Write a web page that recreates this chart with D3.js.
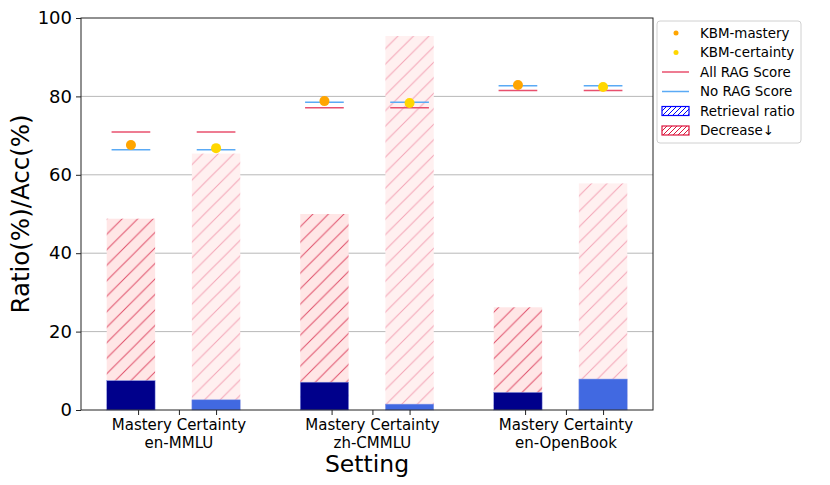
<!DOCTYPE html>
<html>
<head>
<meta charset="utf-8">
<script src="https://cdn.jsdelivr.net/npm/d3@7"></script>
<style>
  body { margin: 0; background: #fff; }
  text { font-family: "DejaVu Sans", sans-serif; }
</style>
</head>
<body>
<div id="chart"></div>
<script>
const settings = ['en-MMLU', 'zh-CMMLU', 'en-OpenBook'];
const kinds = ['Mastery', 'Certainty'];
// per setting: [mastery, certainty]
const retrievalRatio = [[7.5, 2.6], [7.1, 1.5], [4.5, 7.9]];
const decreaseRatio = [[48.8, 65.4], [50.0, 95.4], [26.2, 57.8]];
const allRagScore = [[70.9, 70.9], [77.1, 77.1], [81.5, 81.5]];
const noRagScore = [[66.4, 66.4], [78.5, 78.5], [82.7, 82.7]];
const kbmScore = [[67.6, 66.8], [78.8, 78.3], [82.9, 82.4]];
const yTicks = [0, 20, 40, 60, 80, 100];

const W = 830, H = 485;
const m = { left: 81, right: 177, top: 18, bottom: 75 };

const svg = d3.select('#chart').append('svg')
  .attr('width', W).attr('height', H);

const defs = svg.append('defs');
function hatch(id, bg, stroke, op) {
  const p = defs.append('pattern')
    .attr('id', id).attr('patternUnits', 'userSpaceOnUse')
    .attr('width', 15.5).attr('height', 15.5);
  p.append('rect').attr('width', 15.5).attr('height', 15.5).attr('fill', bg);
  p.append('path').attr('d', 'M-4,4 L4,-4 M0,15.5 L15.5,0 M11.5,19.5 L19.5,11.5')
    .attr('stroke', stroke).attr('stroke-width', 1).attr('stroke-opacity', op);
}
hatch('hm', '#ffe6e6', '#e0506a', 1);
hatch('hc', '#fff0f0', '#f29bb0', 0.9);
const legPat = defs.append('pattern').attr('id', 'lb').attr('patternUnits', 'userSpaceOnUse')
  .attr('width', 5).attr('height', 5);
legPat.append('path').attr('d', 'M-1,1 L1,-1 M0,5 L5,0 M4,6 L6,4').attr('stroke', 'blue').attr('stroke-width', 1);
const legPat2 = defs.append('pattern').attr('id', 'lr').attr('patternUnits', 'userSpaceOnUse')
  .attr('width', 5).attr('height', 5);
legPat2.append('path').attr('d', 'M-1,1 L1,-1 M0,5 L5,0 M4,6 L6,4').attr('stroke', 'crimson').attr('stroke-width', 1);

const x = d3.scaleLinear().domain([-0.478, 2.478]).range([m.left, W - m.right]);
const y = d3.scaleLinear().domain([0, 100]).range([H - m.bottom, m.top]);

const offs = [-0.22, 0.22];
const bw = 0.25, lw = 0.2;

// grid
svg.append('g').selectAll('line').data(yTicks.slice(1, -1)).join('line')
  .attr('x1', m.left).attr('x2', W - m.right)
  .attr('y1', d => y(d)).attr('y2', d => y(d))
  .attr('stroke', '#b0b0b0').attr('stroke-width', 0.9);

const rows = [];
settings.forEach((s, i) => kinds.forEach((k, j) => rows.push({ i, j })));

const g = svg.append('g');
// decrease bars
g.selectAll('rect.dec').data(rows).join('rect')
  .attr('x', d => x(d.i + offs[d.j] - bw / 2))
  .attr('width', d => x(bw) - x(0))
  .attr('y', d => y(decreaseRatio[d.i][d.j]))
  .attr('height', d => y(0) - y(decreaseRatio[d.i][d.j]))
  .attr('fill', d => d.j === 0 ? 'url(#hm)' : 'url(#hc)');
// retrieval bars
g.selectAll('rect.ret').data(rows).join('rect')
  .attr('x', d => x(d.i + offs[d.j] - bw / 2))
  .attr('width', d => x(bw) - x(0))
  .attr('y', d => y(retrievalRatio[d.i][d.j]))
  .attr('height', d => y(0) - y(retrievalRatio[d.i][d.j]))
  .attr('fill', d => d.j === 0 ? '#00008b' : '#4169e1')
  .attr('stroke', '#8f9fe8').attr('stroke-width', 0.5);
// RAG lines
g.selectAll('line.all').data(rows).join('line')
  .attr('x1', d => x(d.i + offs[d.j] - lw / 2)).attr('x2', d => x(d.i + offs[d.j] + lw / 2))
  .attr('y1', d => y(allRagScore[d.i][d.j])).attr('y2', d => y(allRagScore[d.i][d.j]))
  .attr('stroke', '#e8506e').attr('stroke-width', 1.5);
g.selectAll('line.no').data(rows).join('line')
  .attr('x1', d => x(d.i + offs[d.j] - lw / 2)).attr('x2', d => x(d.i + offs[d.j] + lw / 2))
  .attr('y1', d => y(noRagScore[d.i][d.j])).attr('y2', d => y(noRagScore[d.i][d.j]))
  .attr('stroke', '#5aaaf5').attr('stroke-width', 1.5);
g.selectAll('circle').data(rows).join('circle')
  .attr('cx', d => x(d.i + offs[d.j]))
  .attr('cy', d => y(kbmScore[d.i][d.j]))
  .attr('r', 5)
  .attr('fill', d => d.j === 0 ? '#ffa500' : '#ffd700');

// frame
svg.append('rect').attr('x', m.left).attr('y', m.top)
  .attr('width', W - m.right - m.left).attr('height', H - m.bottom - m.top)
  .attr('fill', 'none').attr('stroke', '#222').attr('stroke-width', 1);

// y axis
const ya = svg.append('g').attr('transform', `translate(${m.left},0)`)
  .call(d3.axisLeft(y).tickValues(yTicks).tickSize(5).tickPadding(4));
ya.select('.domain').remove();
ya.selectAll('text').attr('font-size', 18).attr('fill', '#000').style('font-family', 'DejaVu Sans');
ya.selectAll('line').attr('stroke', '#222');

// x ticks
const xt = [];
settings.forEach((s, i) => [-0.183, 0.028, 0.22].forEach(o => xt.push(i + o)));
const xa = svg.append('g').attr('transform', `translate(0,${H - m.bottom})`)
  .call(d3.axisBottom(x).tickValues(xt).tickSize(5).tickFormat(''));
xa.select('.domain').remove();
xa.selectAll('line').attr('stroke', '#222');

const lab = svg.append('g');
settings.forEach((s, i) => {
  lab.append('text').attr('x', x(i + 0.028)).attr('y', 430).attr('text-anchor', 'middle')
    .attr('font-size', 15).attr('fill', '#000').text(kinds.join(' '));
  lab.append('text').attr('x', x(i + 0.028)).attr('y', 447.5).attr('text-anchor', 'middle')
    .attr('font-size', 15).attr('fill', '#000').text(s);
});

svg.append('text').attr('x', x(1)).attr('y', 472).attr('text-anchor', 'middle')
  .attr('font-size', 23.5).text('Setting');
svg.append('text').attr('transform', `translate(29,${(m.top + H - m.bottom) / 2}) rotate(-90)`)
  .attr('text-anchor', 'middle').attr('font-size', 24.5).text('Ratio(%)/Acc(%)');

// legend
const leg = svg.append('g').attr('transform', 'translate(657,21)');
leg.append('rect').attr('width', 144).attr('height', 122).attr('rx', 3)
  .attr('fill', '#fff').attr('stroke', '#d0d0d0');
const items = [
  { t: 'KBM-mastery', k: 'dot', c: '#ffa500' },
  { t: 'KBM-certainty', k: 'dot', c: '#ffd700' },
  { t: 'All RAG Score', k: 'line', c: '#e8506e' },
  { t: 'No RAG Score', k: 'line', c: '#5aaaf5' },
  { t: 'Retrieval ratio', k: 'patch', c: 'blue', p: 'url(#lb)' },
  { t: 'Decrease↓', k: 'patch', c: 'crimson', p: 'url(#lr)' }
];
items.forEach((d, i) => {
  const yy = 12 + i * 19.5;
  if (d.k === 'dot') leg.append('circle').attr('cx', 19).attr('cy', yy).attr('r', 2.5).attr('fill', d.c);
  if (d.k === 'line') leg.append('line').attr('x1', 5).attr('x2', 32).attr('y1', yy).attr('y2', yy)
    .attr('stroke', d.c).attr('stroke-width', 1.5);
  if (d.k === 'patch') leg.append('rect').attr('x', 5).attr('y', yy - 4.5).attr('width', 27).attr('height', 9)
    .attr('fill', d.p).attr('stroke', d.c).attr('stroke-width', 1.2);
  leg.append('text').attr('x', 43).attr('y', yy + 4.5).attr('font-size', 13.4).text(d.t);
});
</script>
</body>
</html>
